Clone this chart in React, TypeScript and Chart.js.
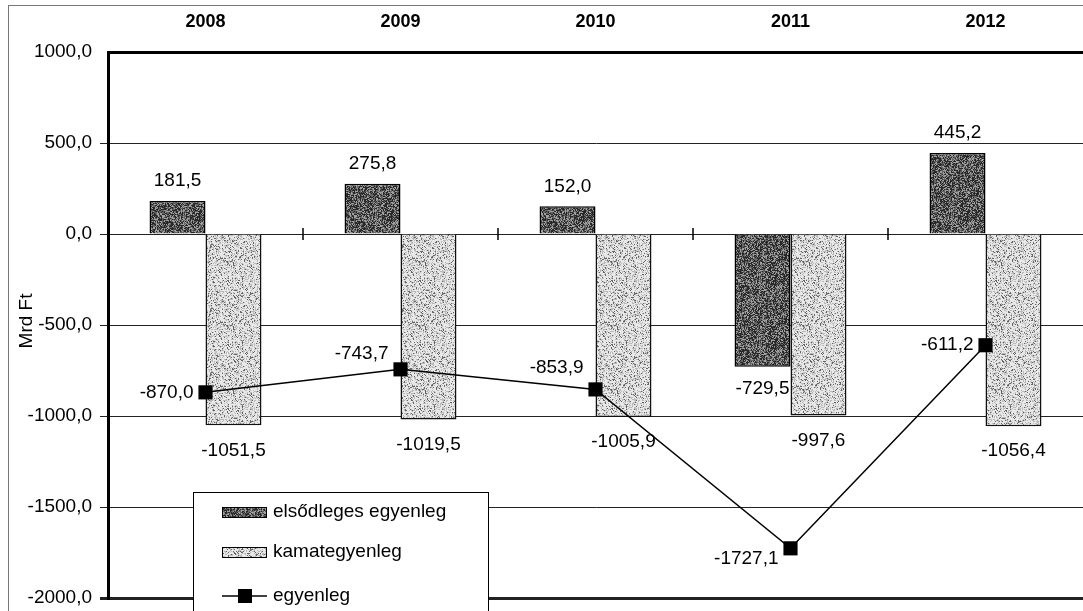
import React, { useEffect, useRef } from "react";
import { Chart, registerables } from "chart.js";

Chart.register(...registerables);

const years = ["2008", "2009", "2010", "2011", "2012"];
const primaryBalance = [181.5, 275.8, 152.0, -729.5, 445.2];
const interestBalance = [-1051.5, -1019.5, -1005.9, -997.6, -1056.4];
const totalBalance = [-870.0, -743.7, -853.9, -1727.1, -611.2];
const seriesNames = ["elsődleges egyenleg", "kamategyenleg", "egyenleg"];
const yMin = -2000;
const yMax = 1000;
const yStep = 500;
const yTitle = "Mrd Ft";

const FONT = '"Liberation Sans", Arial, sans-serif';
const fmt = (v: number) => v.toFixed(1).replace(".", ",");

function hash(x: number, y: number): number {
  let h = Math.imul(x, 374761393) + Math.imul(y, 668265263);
  h = Math.imul(h ^ (h >>> 13), 1274126177);
  h = h ^ (h >>> 16);
  return (h >>> 0) / 4294967296;
}

function makePattern(kind: "dark" | "light"): CanvasPattern | string {
  const size = 64;
  const c = document.createElement("canvas");
  c.width = size;
  c.height = size;
  const g = c.getContext("2d");
  if (!g) return kind === "dark" ? "#5e5e5e" : "#cacaca";
  const img = g.createImageData(size, size);
  for (let y = 0; y < size; y++) {
    for (let x = 0; x < size; x++) {
      const r = hash(x + (kind === "dark" ? 7 : 911), y + (kind === "dark" ? 3 : 517));
      let v: number;
      if (kind === "dark") v = r < 0.42 ? 40 : r < 0.74 ? 100 : 160;
      else v = r < 0.12 ? 100 : r < 0.38 ? 185 : 232;
      const i = (y * size + x) * 4;
      img.data[i] = v;
      img.data[i + 1] = v;
      img.data[i + 2] = v;
      img.data[i + 3] = 255;
    }
  }
  g.putImageData(img, 0, 0);
  const p = g.createPattern(c, "repeat");
  return p || (kind === "dark" ? "#5e5e5e" : "#cacaca");
}

export default function App() {
  const ref = useRef<HTMLCanvasElement>(null);

  useEffect(() => {
    if (!ref.current) return;
    const darkFill = makePattern("dark");
    const lightFill = makePattern("light");
    const lineLabelNudge = [0, -16, -22, 10, 0];

    const labelsPlugin = {
      id: "valueLabels",
      afterDatasetsDraw(chart: any) {
        const ctx = chart.ctx;
        ctx.save();
        ctx.fillStyle = "#000";
        ctx.textBaseline = "middle";
        ctx.font = `19px ${FONT}`;
        const xs = chart.scales.x;
        const y0 = chart.scales.y.getPixelForValue(0);
        ctx.strokeStyle = "#000";
        ctx.lineWidth = 1.5;
        for (let i = 1; i < years.length; i++) {
          const xm = (xs.getPixelForValue(i - 1) + xs.getPixelForValue(i)) / 2;
          ctx.beginPath();
          ctx.moveTo(xm, y0 - 6);
          ctx.lineTo(xm, y0 + 6);
          ctx.stroke();
        }
        const m0 = chart.getDatasetMeta(0);
        m0.data.forEach((el: any, i: number) => {
          const v = primaryBalance[i];
          ctx.textAlign = "center";
          ctx.fillText(fmt(v), el.x, v >= 0 ? el.y - 20 : el.y + 22);
        });
        const m1 = chart.getDatasetMeta(1);
        m1.data.forEach((el: any, i: number) => {
          const v = interestBalance[i];
          ctx.textAlign = "center";
          ctx.fillText(fmt(v), el.x, v >= 0 ? el.y - 20 : el.y + 25);
        });
        const m2 = chart.getDatasetMeta(2);
        m2.data.forEach((el: any, i: number) => {
          ctx.textAlign = "right";
          ctx.fillText(fmt(totalBalance[i]), el.x - 12, el.y + lineLabelNudge[i]);
        });
        ctx.restore();
      },
      afterDraw(chart: any) {
        const ctx = chart.ctx;
        ctx.save();
        ctx.strokeStyle = "#777";
        ctx.lineWidth = 1;
        ctx.strokeRect(8.5, 5.5, 1200, 700);
        ctx.save();
        ctx.translate(27, 321);
        ctx.rotate(-Math.PI / 2);
        ctx.font = `19px ${FONT}`;
        ctx.fillStyle = "#000";
        ctx.textAlign = "center";
        ctx.textBaseline = "middle";
        ctx.fillText(yTitle, 0, 0);
        ctx.restore();
        const lx = 193.5;
        const ly = 492.5;
        ctx.fillStyle = "#fff";
        ctx.fillRect(lx, ly, 295, 130);
        ctx.strokeStyle = "#000";
        ctx.lineWidth = 1;
        ctx.strokeRect(lx, ly, 295, 130);
        const rows = [512, 552, 596];
        const fills = [darkFill, lightFill];
        for (let i = 0; i < 2; i++) {
          ctx.fillStyle = fills[i] as any;
          ctx.fillRect(222, rows[i] - 5, 45, 10);
          ctx.strokeStyle = "#000";
          ctx.strokeRect(222.5, rows[i] - 4.5, 44, 10);
        }
        ctx.beginPath();
        ctx.lineWidth = 1.5;
        ctx.moveTo(222, rows[2]);
        ctx.lineTo(267, rows[2]);
        ctx.stroke();
        ctx.fillStyle = "#000";
        ctx.fillRect(238, rows[2] - 7, 14, 14);
        ctx.font = `19px ${FONT}`;
        ctx.textAlign = "left";
        ctx.textBaseline = "middle";
        seriesNames.forEach((n, i) => ctx.fillText(n, 273, rows[i]));
        ctx.restore();
      },
    };

    const chart = new Chart(ref.current, {
      type: "bar",
      data: {
        labels: years,
        datasets: [
          {
            type: "bar",
            label: seriesNames[0],
            data: primaryBalance,
            backgroundColor: darkFill as any,
            borderColor: "#000",
            borderWidth: 1.5,
            order: 1,
          },
          {
            type: "bar",
            label: seriesNames[1],
            data: interestBalance,
            backgroundColor: lightFill as any,
            borderColor: "#111",
            borderWidth: 1.5,
            order: 1,
          },
          {
            type: "line",
            label: seriesNames[2],
            data: totalBalance,
            borderColor: "#000",
            borderWidth: 1.5,
            backgroundColor: "#000",
            pointStyle: "rect",
            pointRadius: 10,
            pointBackgroundColor: "#000",
            pointBorderColor: "#000",
            pointBorderWidth: 0,
            tension: 0,
            order: 0,
          } as any,
        ],
      },
      options: {
        animation: false,
        responsive: false,
        maintainAspectRatio: false,
        layout: { autoPadding: false, padding: { left: 0, top: 0, right: 0, bottom: 13 } },
        datasets: {
          bar: { categoryPercentage: 0.574, barPercentage: 1 },
        },
        plugins: {
          legend: { display: false },
          tooltip: { enabled: false },
          title: { display: false },
        },
        scales: {
          x: {
            position: "top",
            offset: true,
            grid: { display: false, drawTicks: false },
            border: { display: true, width: 3, color: "#000" },
            ticks: {
              color: "#000",
              font: { family: FONT, size: 18, weight: "bold" },
              padding: 19,
              maxRotation: 0,
            },
            afterFit: (s: any) => {
              s.height = 52;
              s.paddingLeft = 0;
              s.paddingRight = 0;
            },
          },
          y: {
            min: yMin,
            max: yMax,
            grid: {
              color: (c: any) => (c.tick && c.tick.value === yMax ? "rgba(0,0,0,0)" : "#222"),
              lineWidth: (c: any) => (c.tick && c.tick.value === yMin ? 3 : 1),
              tickLength: 8,
              drawTicks: true,
            },
            border: { display: true, width: 3, color: "#000" },
            ticks: {
              stepSize: yStep,
              color: "#000",
              padding: 8,
              font: { family: FONT, size: 19 },
              callback: (v: any) => fmt(Number(v)),
            },
            afterFit: (s: any) => {
              s.width = 108;
              s.paddingTop = 0;
              s.paddingBottom = 0;
            },
          },
        },
      },
      plugins: [labelsPlugin],
    });
    return () => chart.destroy();
  }, []);

  return (
    <div style={{ position: "absolute", left: 0, top: 0, width: 1083, height: 611, background: "#fff" }}>
      <canvas ref={ref} width={1083} height={611} style={{ width: 1083, height: 611, display: "block" }} />
    </div>
  );
}
